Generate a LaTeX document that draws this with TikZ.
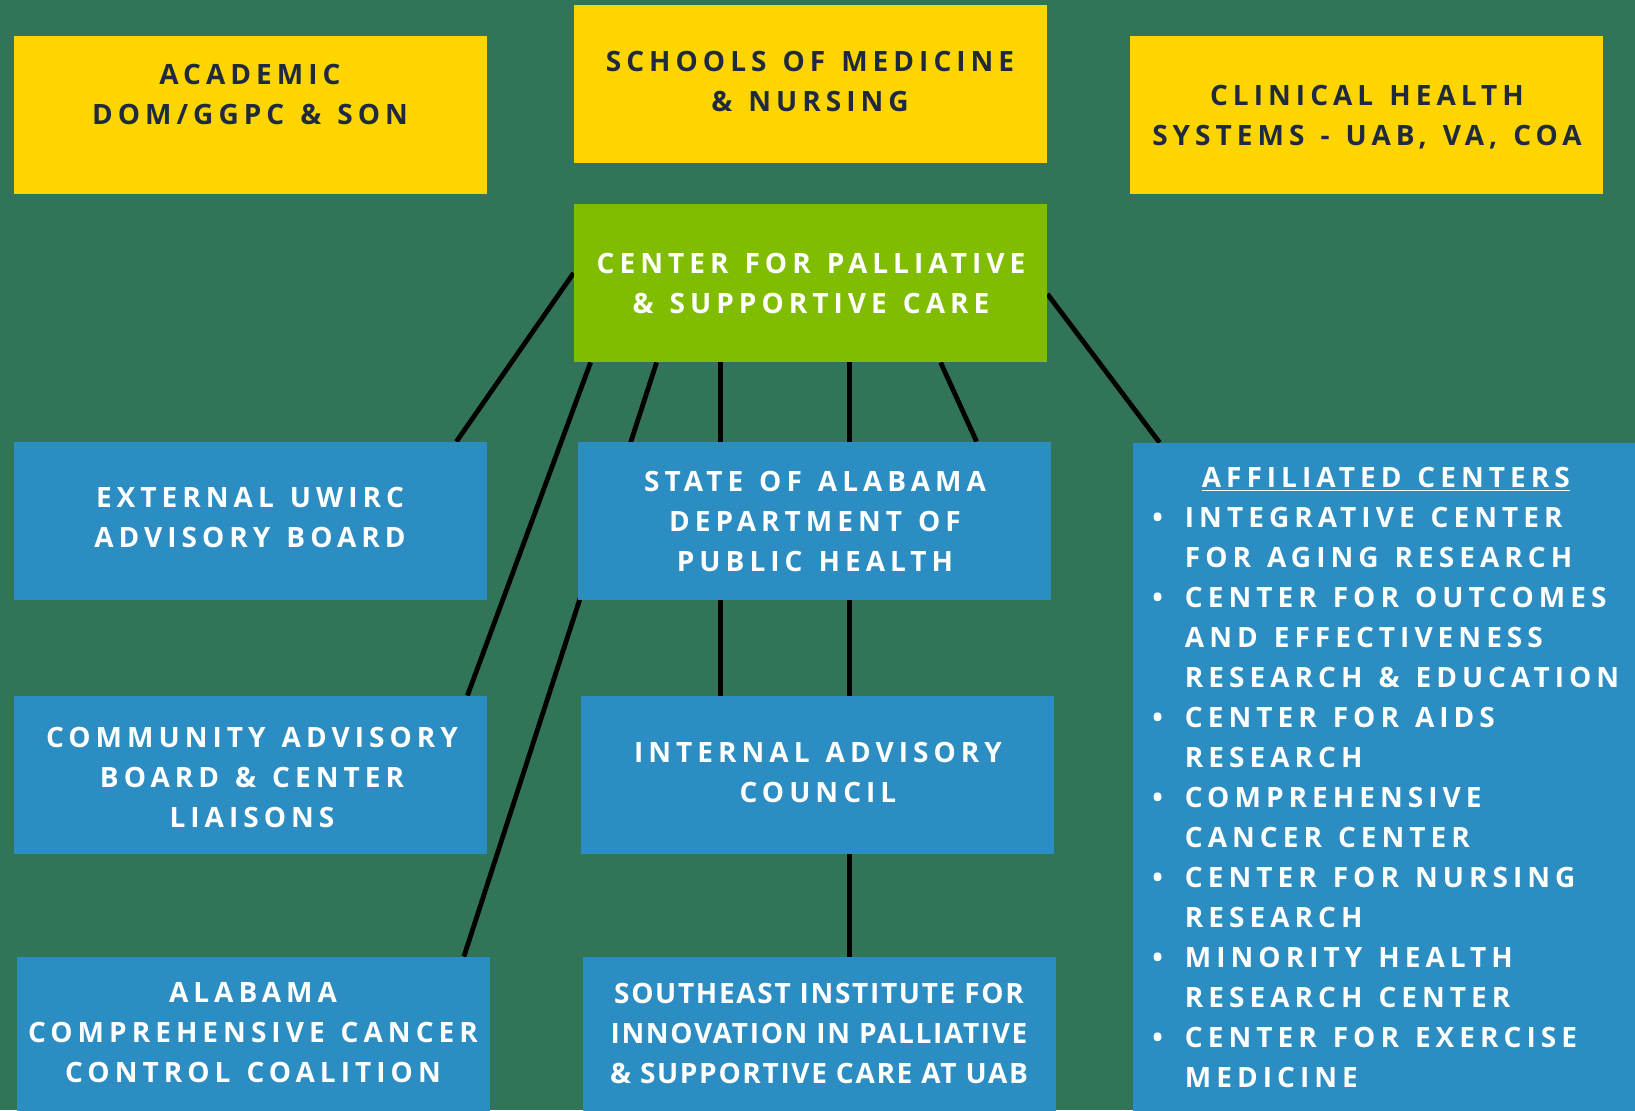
\documentclass[tikz,border=0pt]{standalone}
\usepackage{fontspec}
\usepackage{xcolor}
\usetikzlibrary{calc,backgrounds}

\setmainfont{Open Sans}
\newfontfamily\boxfont{Open Sans}[LetterSpace=18, WordSpace=1.3]
\newfontfamily\tightfont{Open Sans}[LetterSpace=6]

\definecolor{bggreen}{HTML}{317457}
\definecolor{boxyellow}{HTML}{FFD500}
\definecolor{boxgreen}{HTML}{80BD00}
\definecolor{boxblue}{HTML}{2B8DC1}
\definecolor{textnavy}{HTML}{1F2A3F}

\begin{document}
\begin{tikzpicture}[x=0.5pt, y=-0.5pt,
        box/.style={minimum width=236.5pt, minimum height=79pt, inner sep=0pt},
        yellowbox/.style={box, fill=boxyellow},
        greenbox/.style={box, fill=boxgreen},
        bluebox/.style={box, fill=boxblue},
        darktxt/.style={text=textnavy, inner sep=0pt, align=center,
            font=\boxfont\bfseries\fontsize{14pt}{20pt}\selectfont},
        lighttxt/.style={darktxt, text=white},
        listtxt/.style={text=white, inner sep=0pt,
            font=\boxfont\bfseries\fontsize{14pt}{20pt}\selectfont},
        link/.style={black, line width=2.4pt}]
        \useasboundingbox (0,0) rectangle (1635,1110);

        % Top row
        \node[yellowbox] (acad) at (250.5,115) {};
        \node[yellowbox] (smn) at (810.5,84) {};
        \node[yellowbox] (chs) at (1366.5,115) {};
        \node[greenbox] (cpsc) at (810.5,283) {};

        % Blue boxes
        \node[bluebox] (ext) at (250.5,521) {};
        \node[bluebox] (adph) at (814.5,521) {};
        \node[bluebox] (cab) at (250.5,775) {};
        \node[bluebox] (iac) at (817.5,775) {};
        \node[bluebox] (accc) at (253,1036) {};
        \node[bluebox] (sei) at (819.5,1036) {};
        \node[box, fill=boxblue, minimum width=251pt, minimum height=340pt] (aff) at (1384,783) {};

        % Texts
        \node[darktxt] (acadtxt) at (250,94) {ACADEMIC\\DOM/GGPC \& SON};
        \node[darktxt] (smntxt) at (810,81) {SCHOOLS OF MEDICINE\\\& NURSING};
        \node[darktxt] (chstxt) at (1367,117) {CLINICAL HEALTH\\SYSTEMS - UAB, VA, COA};
        \node[lighttxt] (cpsctxt) at (811,283) {CENTER FOR PALLIATIVE\\\& SUPPORTIVE CARE};
        \node[lighttxt] (exttxt) at (250,517) {EXTERNAL UWIRC\\ADVISORY BOARD};
        \node[lighttxt] (adphtxt) at (815,521) {STATE OF ALABAMA\\DEPARTMENT OF\\PUBLIC HEALTH};
        \node[lighttxt] (cabtxt) at (252,777) {COMMUNITY ADVISORY\\BOARD \& CENTER\\LIAISONS};
        \node[lighttxt] (iactxt) at (818,772) {INTERNAL ADVISORY\\COUNCIL};
        \node[lighttxt] (accctxt) at (253,1033) {ALABAMA\\COMPREHENSIVE CANCER\\CONTROL COALITION};
        \node[lighttxt, font=\tightfont\bfseries\fontsize{14pt}{20pt}\selectfont] (seitxt) at (819,1033)
            {SOUTHEAST INSTITUTE FOR\\INNOVATION IN PALLIATIVE\\\& SUPPORTIVE CARE AT UAB};
        \node[listtxt, anchor=west] (afftxt) at (1152,779) {%
            \begin{tabular}{@{}l@{\hspace{11pt}}l@{}}
                \multicolumn{2}{c}{\underline{AFFILIATED CENTERS}}\\
                \textbullet & INTEGRATIVE CENTER\\
                & FOR AGING RESEARCH\\
                \textbullet & CENTER FOR OUTCOMES\\
                & AND EFFECTIVENESS\\
                & RESEARCH \& EDUCATION\\
                \textbullet & CENTER FOR AIDS\\
                & RESEARCH\\
                \textbullet & COMPREHENSIVE\\
                & CANCER CENTER\\
                \textbullet & CENTER FOR NURSING\\
                & RESEARCH\\
                \textbullet & MINORITY HEALTH\\
                & RESEARCH CENTER\\
                \textbullet & CENTER FOR EXERCISE\\
                & MEDICINE
            \end{tabular}};

        % Connectors behind the boxes
        \begin{scope}[on background layer]
            \fill[bggreen] (0,0) rectangle (1635,1110);
            \draw[link] ($(cpsc.west)+(0,-10)$) -- ($(ext.north east)+(-31,0)$);
            \draw[link] ($(cpsc.south west)+(17,0)$) -- ($(cab.north east)+(-20,0)$);
            \draw[link] ($(cpsc.south west)+(83,0)$) -- ($(accc.north east)+(-26,0)$);
            \draw[link] ($(cpsc.south west)+(147,0)$) -- ($(iac.north west)+(140,0)$);
            \draw[link] ($(cpsc.south west)+(276,0)$) -- ($(sei.north west)+(267,0)$);
            \draw[link] ($(cpsc.south west)+(367,0)$) -- ($(adph.north west)+(399,0)$);
            \draw[link] ($(cpsc.east)+(0,11)$) -- ($(aff.north west)+(27,0)$);
        \end{scope}
    \end{tikzpicture}
\end{document}
